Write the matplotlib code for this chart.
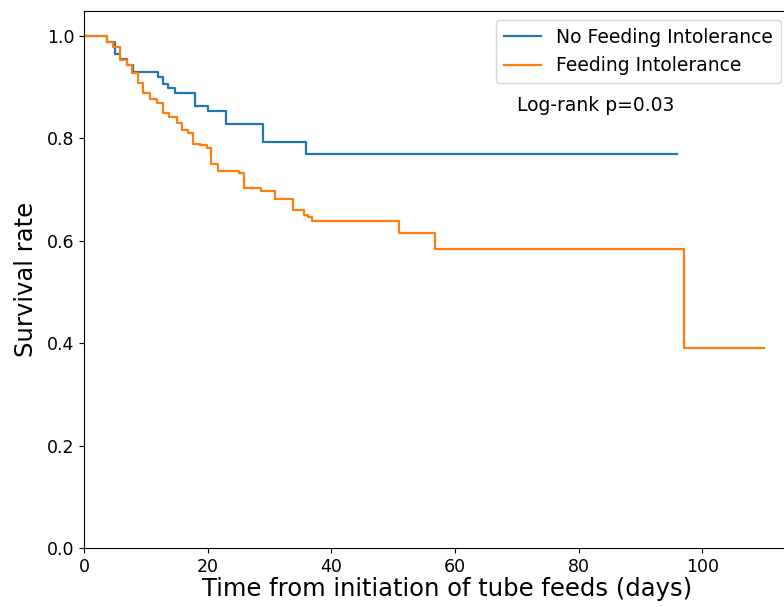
import matplotlib
matplotlib.use("Agg")
import matplotlib.pyplot as plt

# czasy zdarzen (dni) i przezycie po zdarzeniu
no_fi_time = [0, 3.8, 5.0, 5.9, 6.9, 8.0, 12.0, 12.8, 13.6, 14.7, 18.0, 20.0, 22.9, 28.9, 35.9, 96.0]
no_fi_surv = [1.0, 0.988, 0.965, 0.955, 0.943, 0.930, 0.920, 0.907, 0.898, 0.888, 0.864, 0.853, 0.829, 0.793, 0.769, 0.769]

fi_time = [0, 3.8, 4.7, 5.9, 6.9, 7.7, 8.7, 9.6, 10.7, 11.8, 12.8, 13.8, 15.0, 15.9, 16.9, 17.7, 18.8,
           19.9, 20.6, 21.7, 25.0, 25.9, 28.7, 30.9, 33.8, 35.6, 36.3, 36.8, 50.9, 56.8, 97.0, 110.0]
fi_surv = [1.0, 0.988, 0.979, 0.954, 0.943, 0.927, 0.908, 0.888, 0.878, 0.869, 0.849, 0.842, 0.830, 0.816,
           0.810, 0.790, 0.787, 0.781, 0.751, 0.737, 0.733, 0.704, 0.697, 0.681, 0.660, 0.650, 0.647, 0.639,
           0.616, 0.585, 0.390, 0.390]

labels = ["No Feeding Intolerance", "Feeding Intolerance"]

fig = plt.figure(figsize=(7.84, 6.07), dpi=100)
ax = fig.add_axes([84/784, 59/607, 706/784, 537/607])

ax.step(no_fi_time, no_fi_surv, where="post", color="#1f77b4", lw=1.6, label=labels[0])
ax.step(fi_time, fi_surv, where="post", color="#ff7f0e", lw=1.6, label=labels[1])

ax.set_xlim(0, 114.2)
ax.set_ylim(0, 1.049)
ax.set_xticks([0, 20, 40, 60, 80, 100])
ax.set_yticks([0.0, 0.2, 0.4, 0.6, 0.8, 1.0])
ax.tick_params(labelsize=12.5)

ax.set_xlabel("Time from initiation of tube feeds (days)", fontsize=17.5, labelpad=1)
ax.xaxis.label.set_x(0.514)
ax.set_ylabel("Survival rate", fontsize=17.5, labelpad=6)
ax.legend(loc="upper right", fontsize=13.5)
ax.text(70, 0.865, "Log-rank p=0.03", fontsize=13.5, va="center")

fig.savefig("out.png", dpi=100)
